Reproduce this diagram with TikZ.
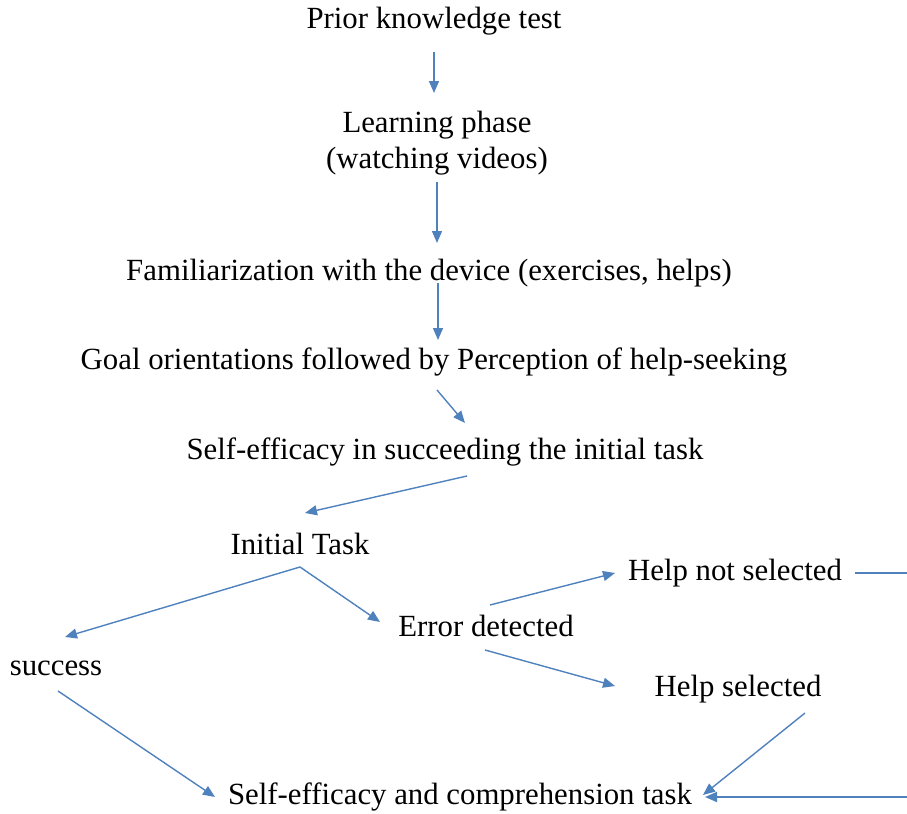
\documentclass[tikz,border=0pt]{standalone}
\usepackage{fontspec}
\setmainfont{Liberation Serif}
\usetikzlibrary{calc, arrows.meta}
\definecolor{flowblue}{HTML}{4F81BD}
\tikzset{
  flow/label/.style={inner sep=0pt, align=center, font=\fontsize{15.4}{18}\selectfont},
  flow/arrow/.style={-{Triangle[length=6pt, width=5pt]}, flowblue, line width=0.7pt},
  flow/line/.style={flowblue, line width=0.9pt},
}
\begin{document}
\begin{tikzpicture}[x=0.5pt, y=-0.5pt]
  \useasboundingbox (0,0) rectangle (907,814);

  % Stufen
  \node[flow/label] (prior) at (434,21) {Prior knowledge test};
  \node[flow/label] (learn) at (437,143) {Learning phase\\(watching videos)};
  \node[flow/label] (famil) at (429,273) {Familiarization with the device (exercises, helps)};
  \node[flow/label] (goal) at (434,362) {Goal orientations followed by Perception of help-seeking};
  \node[flow/label] (selfinit) at (445,452) {Self-efficacy in succeeding the initial task};
  \node[flow/label] (init) at (300,544) {Initial Task};
  \node[flow/label] (success) at (56,668) {success};
  \node[flow/label] (error) at (486,626) {Error detected};
  \node[flow/label] (hnot) at (735,573) {Help not selected};
  \node[flow/label] (hsel) at (738,689) {Help selected};
  \node[flow/label] (comp) at (460,797) {Self-efficacy and comprehension task};

  % Rand rechts
  \coordinate (edgetop) at (907,573);
  \coordinate (edgebot) at (907,797);

  % Pfeile
  \draw[flow/arrow] ($(prior.center)+(0,31)$) -- ($(learn.center)+(-3,-50)$);
  \draw[flow/arrow] ($(learn.center)+(0,39)$) -- ($(famil.center)+(8,-30)$);
  \draw[flow/arrow] ($(famil.center)+(9,10)$) -- ($(goal.center)+(4,-22)$);
  \draw[flow/arrow] ($(goal.center)+(3,28)$) -- ($(selfinit.center)+(20,-29)$);
  \draw[flow/arrow] ($(selfinit.center)+(22,24)$) -- ($(init.center)+(5,-31)$);
  \draw[flow/arrow] ($(init.center)+(0,23)$) -- ($(success.center)+(9,-31)$);
  \draw[flow/arrow] ($(init.center)+(0,23)$) -- ($(error.center)+(-106,-4)$);
  \draw[flow/arrow] ($(error.center)+(4,-21)$) -- ($(hnot.center)+(-120,0)$);
  \draw[flow/arrow] ($(error.center)+(-1,24)$) -- ($(hsel.center)+(-123,-3)$);
  \draw[flow/arrow] ($(success.center)+(2,23)$) -- ($(comp.center)+(-245,0)$);
  \draw[flow/arrow] ($(hsel.center)+(67,24)$) -- ($(comp.center)+(243,-2)$);
  \draw[flow/line] ($(hnot.center)+(120,0)$) -- (edgetop);
  \draw[flow/arrow, line width=0.9pt] (edgebot) -- ($(comp.center)+(245,0)$);

\end{tikzpicture}
\end{document}
